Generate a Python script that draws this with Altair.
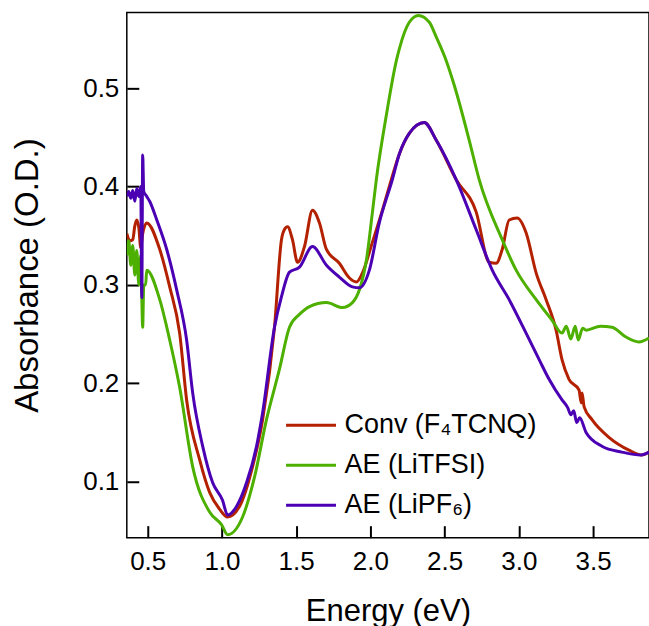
import altair as alt
import pandas as pd

# ---- data ----
series_names = ["Conv (F₄TCNQ)", "AE (LiTFSI)", "AE (LiPF₆)"]
series_colors = ["#B32100", "#4DB000", "#4B00B4"]

conv_energy = [0.359, 0.379, 0.399, 0.413, 0.426, 0.440, 0.453, 0.466, 0.493, 0.581, 0.648,
               0.715, 0.762, 0.850, 0.917, 0.984, 1.038, 1.119, 1.206, 1.274, 1.354, 1.401,
               1.420, 1.442, 1.475, 1.509, 1.556, 1.610, 1.657, 1.704, 1.791, 1.859, 1.906,
               1.946, 2.013, 2.081, 2.141, 2.195, 2.262, 2.363, 2.444, 2.578, 2.713, 2.800,
               2.847, 2.888, 2.935, 2.989, 3.049, 3.117, 3.184, 3.251, 3.291, 3.338, 3.406,
               3.420, 3.426, 3.440, 3.493, 3.607, 3.742, 3.830, 3.877]
conv_abs = [0.352, 0.345, 0.346, 0.360, 0.366, 0.358, 0.338, 0.352, 0.363, 0.336, 0.298,
            0.251, 0.183, 0.122, 0.089, 0.072, 0.064, 0.075, 0.115, 0.163, 0.257, 0.346,
            0.356, 0.359, 0.346, 0.323, 0.339, 0.376, 0.363, 0.336, 0.322, 0.307, 0.303,
            0.312, 0.343, 0.376, 0.407, 0.433, 0.454, 0.465, 0.447, 0.407, 0.374, 0.323,
            0.322, 0.336, 0.366, 0.368, 0.353, 0.312, 0.285, 0.254, 0.224, 0.204, 0.193,
            0.180, 0.190, 0.176, 0.163, 0.145, 0.132, 0.127, 0.130]

tfsi_energy = [0.359, 0.372, 0.386, 0.399, 0.413, 0.426, 0.440, 0.453, 0.466, 0.473, 0.486,
               0.493, 0.581, 0.648, 0.715, 0.803, 0.917, 0.998, 1.038, 1.139, 1.220, 1.300,
               1.387, 1.455, 1.522, 1.590, 1.704, 1.812, 1.879, 1.926, 1.973, 2.013, 2.040,
               2.108, 2.175, 2.195, 2.262, 2.323, 2.397, 2.444, 2.511, 2.565, 2.666, 2.733,
               2.888, 2.982, 3.117, 3.224, 3.291, 3.320, 3.350, 3.380, 3.400, 3.430, 3.453,
               3.550, 3.628, 3.722, 3.809, 3.877]
tfsi_abs = [0.330, 0.345, 0.320, 0.340, 0.310, 0.335, 0.300, 0.330, 0.257, 0.300, 0.300,
            0.315, 0.285, 0.244, 0.196, 0.115, 0.069, 0.056, 0.046, 0.064, 0.105, 0.163,
            0.214, 0.257, 0.270, 0.278, 0.282, 0.277, 0.282, 0.295, 0.325, 0.373, 0.407,
            0.473, 0.528, 0.540, 0.567, 0.574, 0.567, 0.552, 0.528, 0.503, 0.447, 0.407,
            0.346, 0.315, 0.285, 0.264, 0.251, 0.258, 0.245, 0.258, 0.244, 0.256, 0.254,
            0.258, 0.257, 0.247, 0.242, 0.246]

pf6_energy = [0.359, 0.372, 0.386, 0.399, 0.413, 0.426, 0.440, 0.453, 0.460, 0.466, 0.473,
              0.493, 0.513, 0.561, 0.628, 0.695, 0.762, 0.803, 0.870, 0.937, 1.004, 1.038,
              1.099, 1.166, 1.233, 1.274, 1.354, 1.401, 1.455, 1.522, 1.610, 1.704, 1.791,
              1.879, 1.926, 1.993, 2.060, 2.148, 2.195, 2.262, 2.363, 2.444, 2.578, 2.713,
              2.821, 2.935, 3.049, 3.137, 3.204, 3.291, 3.330, 3.350, 3.370, 3.390, 3.410,
              3.453, 3.560, 3.695, 3.823, 3.877]
pf6_abs = [0.390, 0.395, 0.388, 0.396, 0.385, 0.398, 0.390, 0.400, 0.287, 0.432, 0.395,
           0.390, 0.385, 0.366, 0.336, 0.295, 0.244, 0.190, 0.136, 0.099, 0.081, 0.066,
           0.075, 0.099, 0.136, 0.170, 0.257, 0.288, 0.313, 0.318, 0.339, 0.320, 0.308,
           0.298, 0.297, 0.315, 0.363, 0.407, 0.433, 0.454, 0.465, 0.447, 0.407, 0.356,
           0.315, 0.285, 0.251, 0.224, 0.204, 0.183, 0.175, 0.168, 0.172, 0.160, 0.165,
           0.150, 0.136, 0.130, 0.127, 0.130]

x_ticks = [0.5, 1.0, 1.5, 2.0, 2.5, 3.0, 3.5]
y_ticks = [0.1, 0.2, 0.3, 0.4, 0.5]

rows = []
for name, es, vs in [(series_names[0], conv_energy, conv_abs),
                     (series_names[1], tfsi_energy, tfsi_abs),
                     (series_names[2], pf6_energy, pf6_abs)]:
    for i, (e, v) in enumerate(zip(es, vs)):
        rows.append({"series": name, "energy": e, "absorbance": v, "idx": i})
df = pd.DataFrame(rows)

W, H = 523, 526
TICK = 12
FONT = "Liberation Sans"
xscale = alt.Scale(domain=[0.359, 3.877], nice=False, zero=False)
yscale = alt.Scale(domain=[0.043, 0.577], nice=False, zero=False)

color = alt.Color(
    "series:N",
    scale=alt.Scale(domain=series_names, range=series_colors),
    legend=alt.Legend(
        title=None, orient="none", legendX=158, legendY=387,
        symbolType="stroke", symbolSize=2500, symbolStrokeWidth=3,
        labelFontSize=27, labelFont=FONT, labelColor="black",
        labelOffset=7, rowPadding=-22, padding=0, labelLimit=500,
    ),
)

lines = alt.Chart(df).mark_line(strokeWidth=3, clip=True, interpolate="monotone").encode(
    x=alt.X("energy:Q", scale=xscale,
            axis=alt.Axis(values=x_ticks, format=".1f", offset=-TICK, ticks=True,
                          tickSize=TICK, tickWidth=2, tickColor="#000000", tickOpacity=1,
                          domain=False,
                          labelFontSize=26, labelFont=FONT, labelColor="black",
                          labelPadding=11, grid=False,
                          title="Energy (eV)", titleFontSize=31, titleFont=FONT,
                          titleFontWeight="normal", titleColor="black", titlePadding=22)),
    y=alt.Y("absorbance:Q", scale=yscale,
            axis=alt.Axis(values=y_ticks, format=".1f", offset=-TICK, ticks=True,
                          tickSize=TICK, tickWidth=2, tickColor="#000000", tickOpacity=1,
                          domain=False,
                          labelFontSize=26, labelFont=FONT, labelColor="black",
                          labelPadding=8, grid=False,
                          title="Absorbance (O.D.)", titleFontSize=33, titleFont=FONT,
                          titleFontWeight="normal", titleColor="black", titlePadding=38)),
    color=color,
    order=alt.Order("idx:Q"),
)

chart = lines.properties(
    width=W, height=H,
    autosize=alt.AutoSizeParams(type="none"),
    padding={"left": 127, "top": 12, "right": 0, "bottom": 88},
).configure(background="white").configure_view(stroke="black", strokeWidth=1.5)

chart.save("out.html", embed_options={"renderer": "svg", "actions": False})
